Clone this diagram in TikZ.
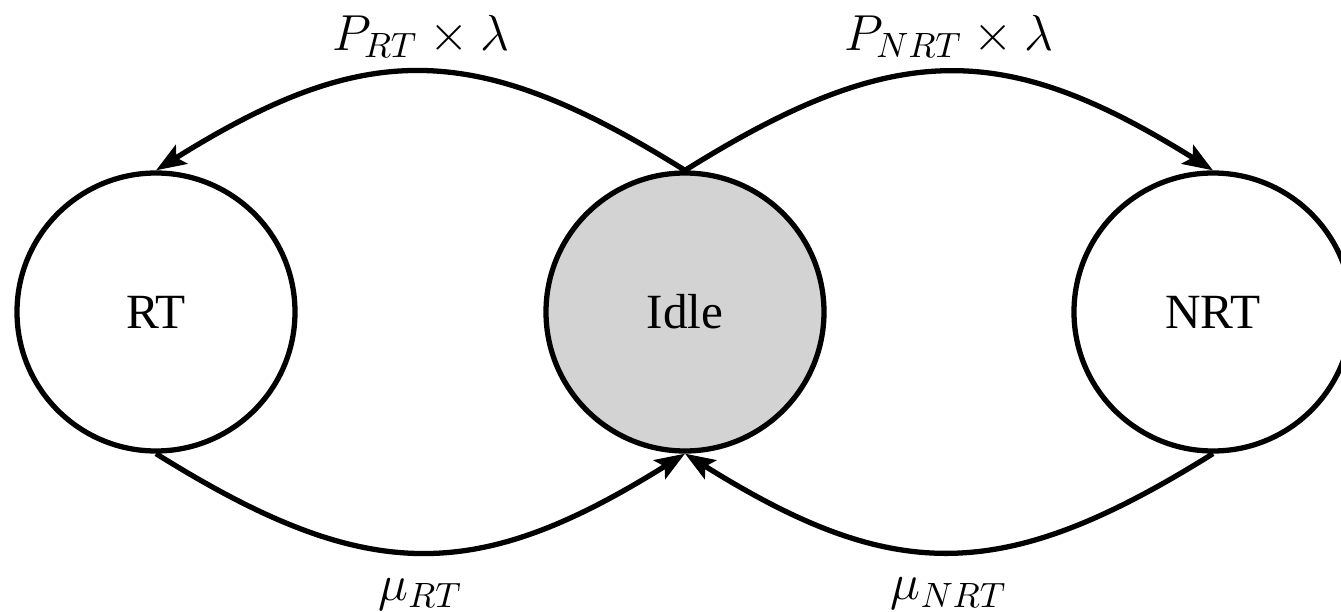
\documentclass[tikz,border=0pt]{standalone}
\usepackage{fontspec}
\setmainfont{Liberation Serif}
\definecolor{IdleGray}{RGB}{211,211,211}
\usetikzlibrary{arrows.meta,positioning}
\tikzset{
  state/.style={circle,draw,line width=1.5pt,minimum size=2.78cm,inner sep=0pt},
  trans/.style={line width=1.5pt,-{Stealth[length=3mm,width=2.2mm,inset=0.6mm]}}
}
\begin{document}
\begin{tikzpicture}[font=\fontsize{14}{17}\selectfont]
\useasboundingbox (0,0) rectangle (13.41,6.11);
% states
\node[state] (rt) at (1.56,2.99) {RT};
\node[state,fill=IdleGray] (idle) at (6.85,2.99) {Idle};
\node[state] (nrt) at (12.13,2.99) {NRT};
% arrivals
\draw[trans] (idle.north) to[out=148,in=32,looseness=1.2] node[midway,above] (arrrt) {$P_{RT}\times\lambda$} (rt.north);
\draw[trans] (idle.north) to[out=32,in=148,looseness=1.2] node[midway,above] (arrnrt) {$P_{NRT}\times\lambda$} (nrt.north);
% services
\draw[trans] (rt.south) to[out=-32,in=-148,looseness=1.2] node[midway,below,yshift=-0.12cm] (srvrt) {$\mu_{RT}$} (idle.south);
\draw[trans] (nrt.south) to[out=-148,in=-32,looseness=1.2] node[midway,below,yshift=-0.12cm] (srvnrt) {$\mu_{NRT}$} (idle.south);
\end{tikzpicture}
\end{document}
